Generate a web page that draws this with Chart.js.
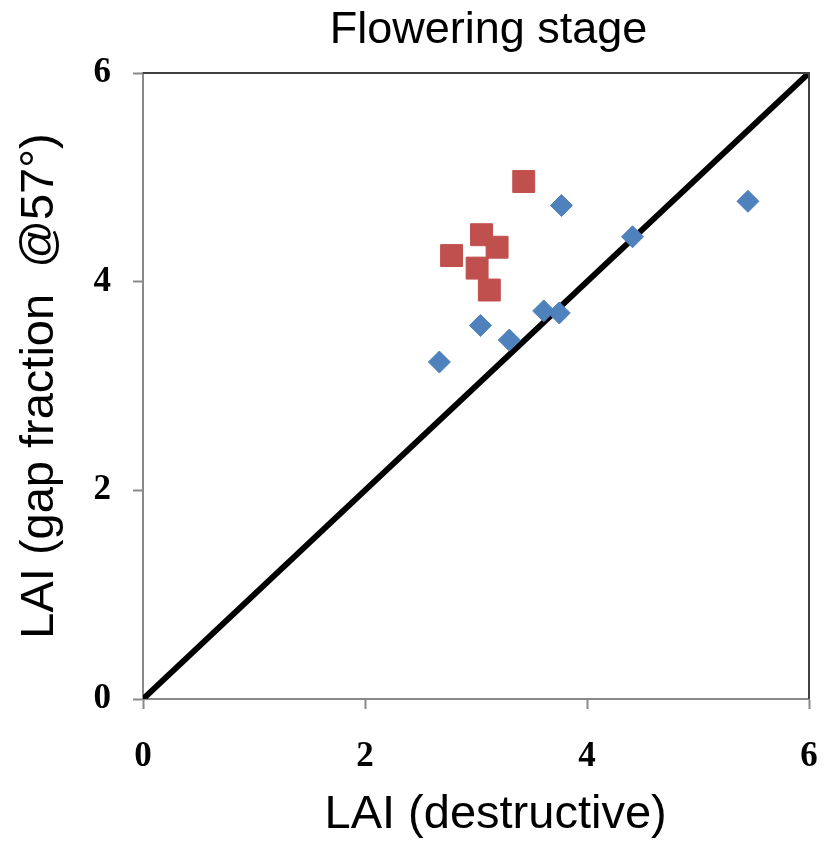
<!DOCTYPE html>
<html>
<head>
<meta charset="utf-8">
<script src="https://cdn.jsdelivr.net/npm/chart.js@4/dist/chart.umd.min.js"></script>
<style>
  html, body { margin: 0; padding: 0; background: #fff; }
  #wrap { width: 833px; height: 843px; }
</style>
</head>
<body>
<div id="wrap"><canvas id="lai"></canvas></div>
<script>
const tickValues = [0, 2, 4, 6]

// blue diamonds
const blueX = [2.67, 3.04, 3.30, 3.61, 3.75, 3.77, 4.41, 5.45]
const blueY = [3.23, 3.58, 3.44, 3.72, 3.70, 4.73, 4.43, 4.77]

// red squares
const redX = [2.78, 3.05, 3.19, 3.01, 3.12, 3.43]
const redY = [4.25, 4.45, 4.33, 4.13, 3.92, 4.96]

// 1:1 line
const lineX = [0, 6]
const lineY = [0, 6]

const toPoints = (xs, ys) => xs.map((x, i) => ({ x: x, y: ys[i] }))

// darker top and right edges of the plot frame
const frameBorder = {
    id: "frameBorder",
    afterDatasetsDraw(chart) {
        const { ctx, chartArea } = chart
        ctx.save()
        ctx.strokeStyle = "#404040"
        ctx.lineWidth = 2
        ctx.beginPath()
        ctx.moveTo(chartArea.left, chartArea.top)
        ctx.lineTo(chartArea.right, chartArea.top)
        ctx.lineTo(chartArea.right, chartArea.bottom)
        ctx.stroke()
        ctx.restore()
    }
}

const axisSettings = (title, labelPadding, titlePadding, fit) => ({
    type: "linear",
    min: 0,
    max: 6,
    afterBuildTicks: (axis) => { axis.ticks = tickValues.map(v => ({ value: v })) },
    afterFit: fit,
    grid: {
        drawOnChartArea: false,
        drawTicks: true,
        tickLength: 10,
        tickWidth: 2,
        tickColor: "#898989"
    },
    border: { display: true, color: "#898989", width: 2 },
    ticks: {
        color: "#000",
        padding: labelPadding,
        font: { family: "Liberation Serif", size: 35, weight: "bold" }
    },
    title: {
        display: true,
        text: title,
        color: "#000",
        padding: titlePadding,
        font: { family: "Liberation Sans", size: 47 }
    }
})

const fitX = (axis) => {
    axis.height = 144
    axis.paddingLeft = 0
    axis.paddingRight = 0
}

const fitY = (axis) => {
    axis.width = 143
    axis.paddingTop = 0
    axis.paddingBottom = 0
}

const context = document.getElementById("lai").getContext("2d")

new Chart(context, {
    type: "scatter",
    data: {
        datasets: [{
            data: toPoints(blueX, blueY),
            pointStyle: "rectRot",
            pointRadius: 11,
            backgroundColor: "#4F81BD",
            borderColor: "#4F81BD",
            borderWidth: 1
        }, {
            data: toPoints(redX, redY),
            pointStyle: "rect",
            pointRadius: 15.5,
            backgroundColor: "#C0504D",
            borderColor: "#C0504D",
            borderWidth: 1
        }, {
            type: "line",
            data: toPoints(lineX, lineY),
            borderColor: "#000",
            borderWidth: 6,
            pointRadius: 0,
            fill: false
        }]
    },
    options: {
        responsive: true,
        maintainAspectRatio: false,
        animation: false,
        layout: { padding: { left: 0, right: 24, top: 0, bottom: 0 } },
        scales: {
            x: axisSettings("   LAI (destructive)", 27, { top: 10, bottom: 0 }, fitX),
            y: axisSettings("LAI (gap fraction  @57°)", 22, { top: 12, bottom: 26 }, fitY)
        },
        plugins: {
            legend: { display: false },
            tooltip: { enabled: false },
            title: {
                display: true,
                fullSize: false,
                text: "  Flowering stage",
                color: "#000",
                font: { family: "Liberation Sans", size: 45, weight: "normal" },
                padding: { top: 4, bottom: 15 }
            }
        }
    },
    plugins: [frameBorder]
})
</script>
</body>
</html>
